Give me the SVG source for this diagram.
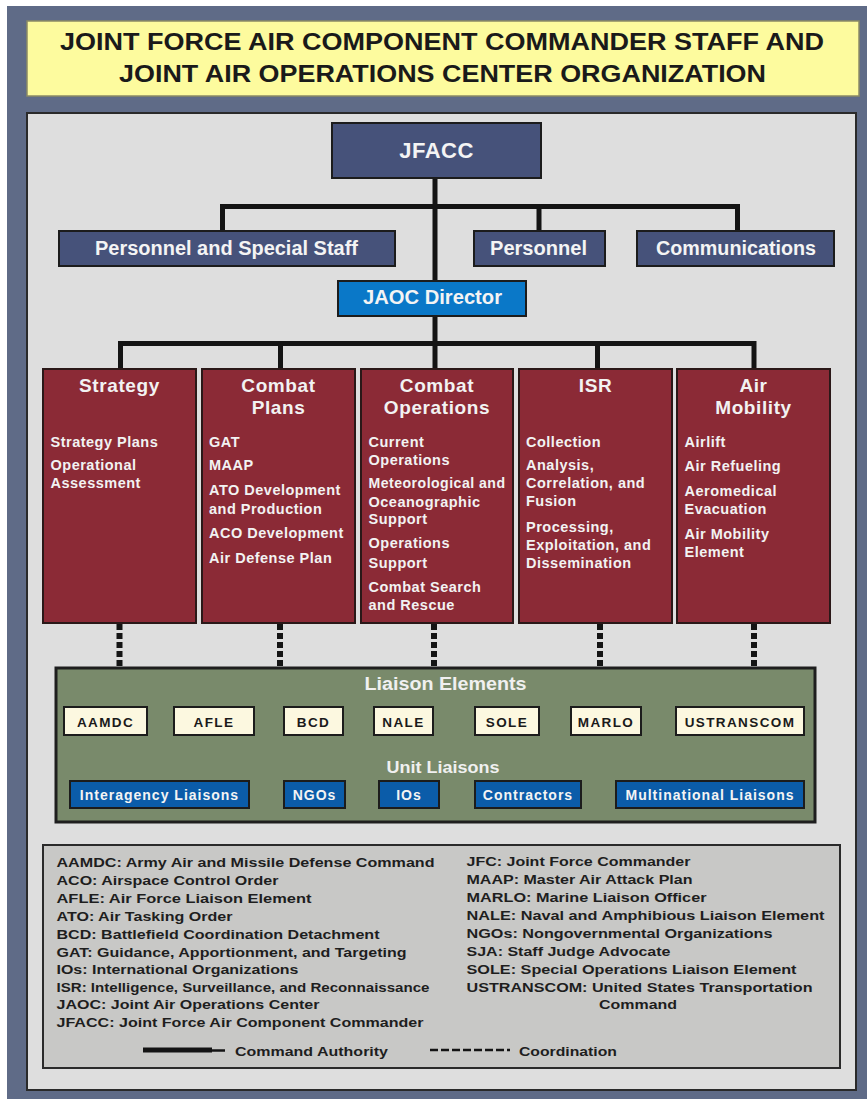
<svg xmlns="http://www.w3.org/2000/svg" width="867" height="1099" viewBox="0 0 867 1099">
<defs>
<style>
text{font-family:"Liberation Sans",Arial,sans-serif}
.navy{fill:#46527a;stroke:#1c1c1c;stroke-width:2}
.red{fill:#8b2a36;stroke:#2a1818;stroke-width:2}
.cream{fill:#fcf8e0;stroke:#1c1c1c;stroke-width:2}
.blue{fill:#0b5ca9;stroke:#1c1c1c;stroke-width:2}
.wt{fill:#f4f4f4;font-weight:bold;text-anchor:middle}
.ttl{fill:#f2f2f2;font-weight:bold;font-size:19px;text-anchor:middle;letter-spacing:0.6px}
.itm{fill:#f2f2f2;font-weight:bold;font-size:14.5px;letter-spacing:0.5px}
.ct{fill:#1a1a1a;font-weight:bold;font-size:13.5px;text-anchor:middle;letter-spacing:1.4px}
.bt{fill:#f4f4f4;font-weight:bold;font-size:14px;text-anchor:middle;letter-spacing:1px}
.lg{fill:#1e1e1e;font-weight:bold;font-size:13.5px}
.cmd{fill:none;stroke:#141414;stroke-width:5}
.dot{fill:none;stroke:#141414;stroke-width:6;stroke-dasharray:6 3}
</style>
</defs>
<rect x="0" y="0" width="867" height="1099" fill="#ffffff"/>
<rect x="7" y="6" width="860" height="1093" fill="#5f6b87"/>
<g id="title">
<rect x="27" y="21" width="832" height="75" fill="#fdfb9e" stroke="#8a8a66" stroke-width="1.5"/>
<text x="442" y="50" font-size="23" font-weight="bold" fill="#1a1a1a" text-anchor="middle" textLength="764" lengthAdjust="spacingAndGlyphs">JOINT FORCE AIR COMPONENT COMMANDER STAFF AND</text>
<text x="442.5" y="82" font-size="23" font-weight="bold" fill="#1a1a1a" text-anchor="middle" textLength="647" lengthAdjust="spacingAndGlyphs">JOINT AIR OPERATIONS CENTER ORGANIZATION</text>
</g>
<rect id="panel" x="27" y="113" width="829" height="977" fill="#dedede" stroke="#2a2a2a" stroke-width="2"/>
<g id="connectors">
<path class="cmd" d="M435 178 V281"/>
<path class="cmd" d="M222.5 231 V206.5 H737.5 V231"/>
<path class="cmd" d="M539 206.5 V231"/>
<path class="cmd" d="M435 316 V369"/>
<path class="cmd" d="M120.5 369 V343.5 H754 V369"/>
<path class="cmd" d="M280.5 343.5 V369"/>
<path class="cmd" d="M597.5 343.5 V369"/>
<path class="dot" d="M119.5 624 V667"/>
<path class="dot" d="M280 624 V667"/>
<path class="dot" d="M434 624 V667"/>
<path class="dot" d="M600 624 V667"/>
<path class="dot" d="M754 624 V667"/>
</g>
<g id="jfacc">
<rect class="navy" x="332" y="123" width="209" height="55"/>
<text class="wt" x="436.5" y="158" font-size="22" letter-spacing="0.5">JFACC</text>
</g>
<g id="personnel-special-staff">
<rect class="navy" x="59" y="231" width="336" height="35"/>
<text class="wt" x="226.5" y="255" font-size="20" textLength="263" lengthAdjust="spacingAndGlyphs">Personnel and Special Staff</text>
</g>
<g id="personnel">
<rect class="navy" x="474" y="231" width="131" height="35"/>
<text class="wt" x="538.5" y="255" font-size="20" textLength="97" lengthAdjust="spacingAndGlyphs">Personnel</text>
</g>
<g id="communications">
<rect class="navy" x="637" y="231" width="197" height="35"/>
<text class="wt" x="736" y="255" font-size="20" textLength="160" lengthAdjust="spacingAndGlyphs">Communications</text>
</g>
<g id="jaoc-director">
<rect x="338" y="281" width="188" height="35" fill="#0a78c8" stroke="#1c1c1c" stroke-width="2"/>
<text class="wt" x="432.5" y="304" font-size="19.5" textLength="139" lengthAdjust="spacingAndGlyphs">JAOC Director</text>
</g>
<g id="strategy">
<rect class="red" x="43" y="369" width="153" height="254"/>
<text class="ttl" x="119.5" y="392">Strategy</text>
<text class="itm" x="50.5" y="446.5">Strategy Plans</text>
<text class="itm" x="50.5" y="470">Operational</text>
<text class="itm" x="50.5" y="488">Assessment</text>
</g>
<g id="combat-plans">
<rect class="red" x="202" y="369" width="153" height="254"/>
<text class="ttl" x="278.5" y="392">Combat</text>
<text class="ttl" x="278.5" y="414">Plans</text>
<text class="itm" x="209" y="446.5">GAT</text>
<text class="itm" x="209" y="470">MAAP</text>
<text class="itm" x="209" y="495">ATO Development</text>
<text class="itm" x="209" y="514">and Production</text>
<text class="itm" x="209" y="538">ACO Development</text>
<text class="itm" x="209" y="563">Air Defense Plan</text>
</g>
<g id="combat-operations">
<rect class="red" x="361" y="369" width="152" height="254"/>
<text class="ttl" x="437" y="392">Combat</text>
<text class="ttl" x="437" y="414">Operations</text>
<text class="itm" x="368.5" y="446.5">Current</text>
<text class="itm" x="368.5" y="465">Operations</text>
<text class="itm" x="368.5" y="488" textLength="137" lengthAdjust="spacingAndGlyphs">Meteorological and</text>
<text class="itm" x="368.5" y="506.5">Oceanographic</text>
<text class="itm" x="368.5" y="524">Support</text>
<text class="itm" x="368.5" y="548">Operations</text>
<text class="itm" x="368.5" y="568">Support</text>
<text class="itm" x="368.5" y="592">Combat Search</text>
<text class="itm" x="368.5" y="610">and Rescue</text>
</g>
<g id="isr">
<rect class="red" x="519" y="369" width="153" height="254"/>
<text class="ttl" x="595.5" y="392">ISR</text>
<text class="itm" x="526" y="446.5">Collection</text>
<text class="itm" x="526" y="470">Analysis,</text>
<text class="itm" x="526" y="488">Correlation, and</text>
<text class="itm" x="526" y="506">Fusion</text>
<text class="itm" x="526" y="531.5">Processing,</text>
<text class="itm" x="526" y="550">Exploitation, and</text>
<text class="itm" x="526" y="568">Dissemination</text>
</g>
<g id="air-mobility">
<rect class="red" x="677" y="369" width="153" height="254"/>
<text class="ttl" x="753.5" y="392">Air</text>
<text class="ttl" x="753.5" y="414">Mobility</text>
<text class="itm" x="684.5" y="446.5">Airlift</text>
<text class="itm" x="684.5" y="471">Air Refueling</text>
<text class="itm" x="684.5" y="496">Aeromedical</text>
<text class="itm" x="684.5" y="514">Evacuation</text>
<text class="itm" x="684.5" y="539">Air Mobility</text>
<text class="itm" x="684.5" y="557">Element</text>
</g>
<g id="liaison-elements">
<rect x="56" y="668" width="759" height="154" fill="#798a6b" stroke="#1e1e1e" stroke-width="3"/>
<text x="445.5" y="690" fill="#f0f0f0" font-size="18" font-weight="bold" text-anchor="middle" textLength="162" lengthAdjust="spacingAndGlyphs">Liaison Elements</text>
<text x="443" y="773" fill="#f0f0f0" font-size="17" font-weight="bold" text-anchor="middle" textLength="113" lengthAdjust="spacingAndGlyphs">Unit Liaisons</text>
</g>
<g id="aamdc"><rect class="cream" x="64" y="707" width="83" height="28"/><text class="ct" x="105.5" y="727">AAMDC</text></g>
<g id="afle"><rect class="cream" x="174" y="707" width="80" height="28"/><text class="ct" x="214" y="727">AFLE</text></g>
<g id="bcd"><rect class="cream" x="284" y="707" width="59" height="28"/><text class="ct" x="313.5" y="727">BCD</text></g>
<g id="nale"><rect class="cream" x="374" y="707" width="59" height="28"/><text class="ct" x="403.5" y="727">NALE</text></g>
<g id="sole"><rect class="cream" x="475" y="707" width="64" height="28"/><text class="ct" x="507" y="727">SOLE</text></g>
<g id="marlo"><rect class="cream" x="571" y="707" width="70" height="28"/><text class="ct" x="606" y="727">MARLO</text></g>
<g id="ustranscom"><rect class="cream" x="676" y="707" width="128" height="28"/><text class="ct" x="740" y="727">USTRANSCOM</text></g>
<g id="interagency-liaisons"><rect class="blue" x="70" y="781" width="179" height="27"/><text class="bt" x="159.5" y="800">Interagency Liaisons</text></g>
<g id="ngos"><rect class="blue" x="284" y="781" width="61" height="27"/><text class="bt" x="314.5" y="800">NGOs</text></g>
<g id="ios"><rect class="blue" x="379" y="781" width="60" height="27"/><text class="bt" x="409" y="800">IOs</text></g>
<g id="contractors"><rect class="blue" x="475" y="781" width="106" height="27"/><text class="bt" x="528" y="800">Contractors</text></g>
<g id="multinational-liaisons"><rect class="blue" x="616" y="781" width="188" height="27"/><text class="bt" x="710" y="800">Multinational Liaisons</text></g>
<g id="legend">
<rect x="43" y="845" width="797" height="223" fill="#c8c8c6" stroke="#2a2a2a" stroke-width="2"/>
<text class="lg" x="56.5" y="866.5" textLength="378" lengthAdjust="spacingAndGlyphs">AAMDC: Army Air and Missile Defense Command</text>
<text class="lg" x="56.5" y="884.5" textLength="222" lengthAdjust="spacingAndGlyphs">ACO: Airspace Control Order</text>
<text class="lg" x="56.5" y="902.5" textLength="255" lengthAdjust="spacingAndGlyphs">AFLE:  Air Force Liaison Element</text>
<text class="lg" x="56.5" y="920.5" textLength="176" lengthAdjust="spacingAndGlyphs">ATO: Air Tasking Order</text>
<text class="lg" x="56.5" y="938.5" textLength="323" lengthAdjust="spacingAndGlyphs">BCD: Battlefield Coordination Detachment</text>
<text class="lg" x="56.5" y="956.5" textLength="350" lengthAdjust="spacingAndGlyphs">GAT: Guidance, Apportionment, and Targeting</text>
<text class="lg" x="56.5" y="974" textLength="242" lengthAdjust="spacingAndGlyphs">IOs: International Organizations</text>
<text class="lg" x="56.5" y="991.5" textLength="373" lengthAdjust="spacingAndGlyphs">ISR: Intelligence, Surveillance, and Reconnaissance</text>
<text class="lg" x="56.5" y="1009" textLength="263" lengthAdjust="spacingAndGlyphs">JAOC: Joint Air Operations Center</text>
<text class="lg" x="56.5" y="1026.5" textLength="367" lengthAdjust="spacingAndGlyphs">JFACC: Joint Force Air Component Commander</text>
<text class="lg" x="466.5" y="866" textLength="224" lengthAdjust="spacingAndGlyphs">JFC: Joint Force Commander</text>
<text class="lg" x="466.5" y="884" textLength="226" lengthAdjust="spacingAndGlyphs">MAAP: Master Air Attack Plan</text>
<text class="lg" x="466.5" y="902" textLength="240" lengthAdjust="spacingAndGlyphs">MARLO:  Marine Liaison Officer</text>
<text class="lg" x="466.5" y="920" textLength="358" lengthAdjust="spacingAndGlyphs">NALE:  Naval and Amphibious Liaison Element</text>
<text class="lg" x="466.5" y="938" textLength="306" lengthAdjust="spacingAndGlyphs">NGOs:  Nongovernmental Organizations</text>
<text class="lg" x="466.5" y="956" textLength="204" lengthAdjust="spacingAndGlyphs">SJA: Staff Judge Advocate</text>
<text class="lg" x="466.5" y="974" textLength="330" lengthAdjust="spacingAndGlyphs">SOLE: Special Operations Liaison Element</text>
<text class="lg" x="466.5" y="991.5" textLength="346" lengthAdjust="spacingAndGlyphs">USTRANSCOM:  United States Transportation</text>
<text class="lg" x="599" y="1008.5" textLength="78" lengthAdjust="spacingAndGlyphs">Command</text>
<path d="M143 1050 H212" stroke="#141414" stroke-width="5"/>
<path d="M212 1050.5 H225" stroke="#141414" stroke-width="2.5"/>
<text class="lg" x="235" y="1056" textLength="153" lengthAdjust="spacingAndGlyphs">Command Authority</text>
<path d="M430 1050 H510" stroke="#141414" stroke-width="2.5" stroke-dasharray="8 3"/>
<text class="lg" x="519" y="1056" textLength="98" lengthAdjust="spacingAndGlyphs">Coordination</text>
</g>
</svg>
